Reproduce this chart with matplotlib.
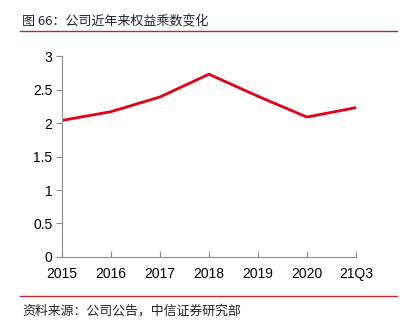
import matplotlib.pyplot as plt
from matplotlib.lines import Line2D

plt.rcParams['font.family'] = ['Liberation Sans', 'Noto Sans CJK SC', 'DejaVu Sans']

# 数据
periods = ['2015', '2016', '2017', '2018', '2019', '2020', '21Q3']
equity_multiplier = [2.04, 2.17, 2.39, 2.73, 2.40, 2.09, 2.23]
y_ticks = [0, 0.5, 1, 1.5, 2, 2.5, 3]
y_tick_labels = ['0', '0.5', '1', '1.5', '2', '2.5', '3']

title = '图 66：公司近年来权益乘数变化'
source = '资料来源：公司公告，中信证券研究部'

fig = plt.figure(figsize=(4.03, 3.32), dpi=100)
ax = fig.add_axes([0.154, 0.226, 0.729, 0.605])

x = list(range(len(periods)))
ax.plot(x, equity_multiplier, color='#E60012', linewidth=2.0, solid_joinstyle='miter')

ax.set_xlim(0, len(periods) - 1)
ax.set_ylim(0, 3)
ax.set_xticks(x)
ax.set_xticklabels(periods)
ax.set_yticks(y_ticks)
ax.set_yticklabels(y_tick_labels)

for s in ['top', 'right']:
    ax.spines[s].set_visible(False)
for s in ['left', 'bottom']:
    ax.spines[s].set_color('#8c8c8c')
    ax.spines[s].set_linewidth(0.8)

ax.tick_params(axis='x', direction='in', length=4, color='#8c8c8c', labelsize=10, pad=7)
ax.tick_params(axis='y', direction='out', length=4, color='#8c8c8c', labelsize=10, pad=3)

# 标题与来源
fig.text(22 / 403, 1 - 21 / 332, title, fontsize=9.4, va='center', ha='left',
         family=['Noto Sans CJK SC', 'DejaVu Sans'], color='#222222')
fig.add_artist(Line2D([20 / 403, 397 / 403], [1 - 31 / 332, 1 - 31 / 332],
                      color='#C0282D', linewidth=1.0))
fig.add_artist(Line2D([20 / 403, 397 / 403], [1 - 296 / 332, 1 - 296 / 332],
                      color='#C0282D', linewidth=1.0))
fig.text(22 / 403, 1 - 311 / 332, source, fontsize=9.3, va='center', ha='left',
         family=['Noto Sans CJK SC', 'DejaVu Sans'], color='#222222')

fig.savefig('out.png', dpi=100)
